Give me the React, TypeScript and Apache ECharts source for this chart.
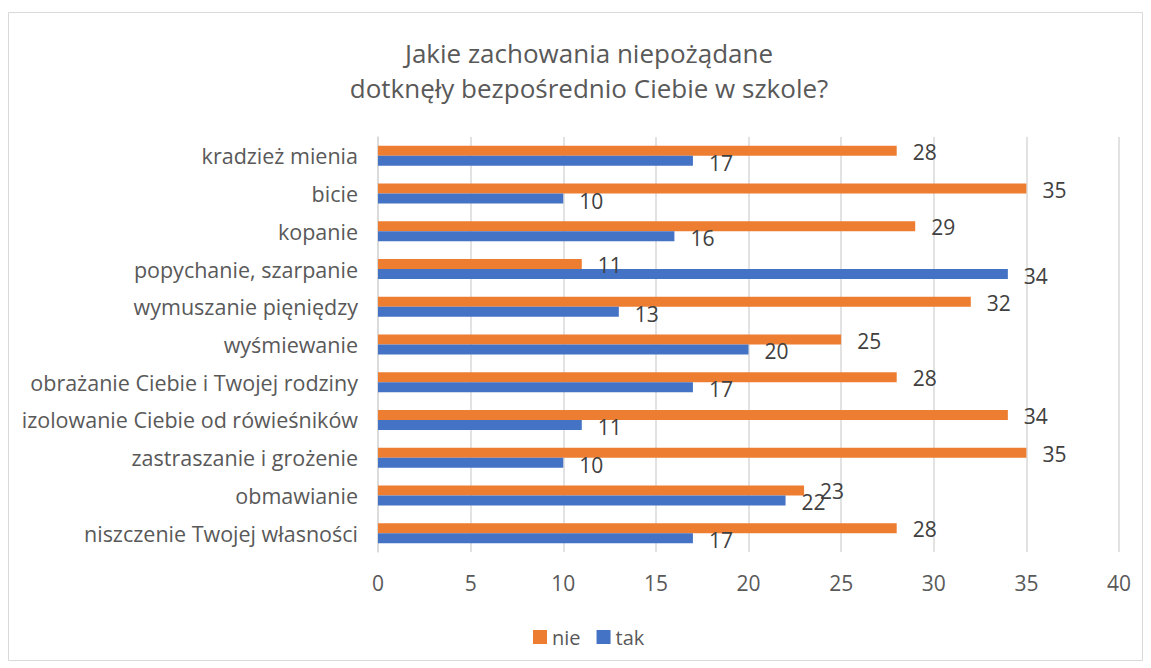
import React, { useEffect, useRef } from "react";
import * as echarts from "echarts";

const categories = [
  "kradzież mienia",
  "bicie",
  "kopanie",
  "popychanie, szarpanie",
  "wymuszanie pięniędzy",
  "wyśmiewanie",
  "obrażanie Ciebie i Twojej rodziny",
  "izolowanie Ciebie od rówieśników",
  "zastraszanie i grożenie",
  "obmawianie",
  "niszczenie Twojej własności",
];
const nieValues = [28, 35, 29, 11, 32, 25, 28, 34, 35, 23, 28];
const takValues = [17, 10, 16, 34, 13, 20, 17, 11, 10, 22, 17];
const titleText = "Jakie zachowania niepożądane\ndotknęły bezpośrednio Ciebie w szkole?";

const FONT = "'Open Sans', sans-serif";
const TXT = "#595959";

export default function App() {
  const ref = useRef<HTMLDivElement>(null);
  useEffect(() => {
    const chart = echarts.init(ref.current!, null, { renderer: "svg" });
    chart.setOption({
      animation: false,
      backgroundColor: "#ffffff",
      textStyle: { fontFamily: FONT },
      graphic: [
        {
          type: "rect",
          shape: { x: 8.5, y: 12.5, width: 1134, height: 648 },
          style: { fill: "none", stroke: "#d9d9d9", lineWidth: 1 },
          silent: true,
        },
      ],
      title: {
        text: titleText,
        left: 584,
        textAlign: "center",
        top: 30,
        textStyle: {
          fontFamily: FONT,
          fontSize: 26,
          fontWeight: "normal",
          color: TXT,
          lineHeight: 35,
        },
      },
      legend: {
        top: 622,
        left: 528,
        itemWidth: 14,
        itemHeight: 14,
        itemGap: 16,
        icon: "rect",
        textStyle: { fontFamily: FONT, fontSize: 20, color: TXT },
        data: ["nie", "tak"],
      },
      grid: { left: 378, right: 32, top: 137, bottom: 116, containLabel: false },
      xAxis: {
        type: "value",
        min: 0,
        max: 40,
        interval: 5,
        axisLine: { show: false },
        axisTick: { show: false },
        axisLabel: { fontFamily: FONT, fontSize: 21, color: TXT, margin: 20 },
        splitLine: { lineStyle: { color: "#d9d9d9", width: 1.5 } },
      },
      yAxis: {
        type: "category",
        inverse: true,
        data: categories,
        axisLine: { show: true, lineStyle: { color: "#d9d9d9", width: 1.5 } },
        axisTick: { show: false },
        axisLabel: { fontFamily: FONT, fontSize: 21.5, color: TXT, margin: 20 },
      },
      series: [
        {
          name: "nie",
          type: "bar",
          data: nieValues,
          itemStyle: { color: "#ED7D31" },
          barGap: "0%",
          barCategoryGap: "47%",
          label: {
            show: true,
            position: "right",
            distance: 16,
            offset: [0, 1],
            fontFamily: FONT,
            fontSize: 21,
            color: "#404040",
          },
        },
        {
          name: "tak",
          type: "bar",
          data: takValues,
          itemStyle: { color: "#4472C4" },
          barGap: "0%",
          barCategoryGap: "47%",
          label: {
            show: true,
            position: "right",
            distance: 16,
            offset: [0, 2],
            fontFamily: FONT,
            fontSize: 21,
            color: "#404040",
          },
        },
      ],
    });
    return () => chart.dispose();
  }, []);
  return (
    <div
      ref={ref}
      style={{ position: "fixed", left: 0, top: 0, width: 1151, height: 668 }}
    />
  );
}
